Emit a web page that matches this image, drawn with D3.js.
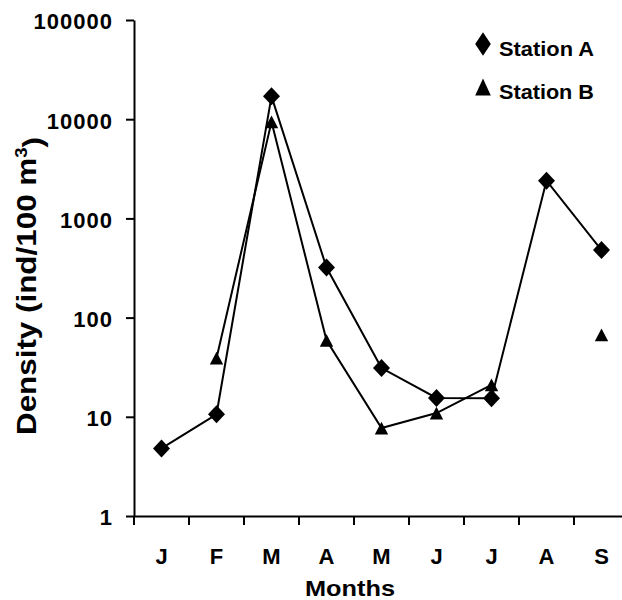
<!DOCTYPE html>
<html>
<head>
<meta charset="utf-8">
<title>Density by month, Station A and B</title>
<script src="https://d3js.org/d3.v7.min.js"></script>
<style>
	body {
		margin: 0;
		background: #fff;
		font-family: "Liberation Sans", Arial, sans-serif;
	}

	.series path.line {
		fill: none;
		stroke: #000;
		stroke-width: 2px;
	}

	.axis path,
	.axis line {
		stroke: #000;
		stroke-width: 2px;
	}
</style>
</head>
<body>
</body>
<script>
	// month labels (Jan..Sep) and values
	var monthLabels = ["J", "F", "M", "A", "M", "J", "J", "A", "S"];
	var stationA = [4.8, 10.6, 17000, 320, 31, 15.5, 15.4, 2400, 480];
	var stationB = [null, 39, 9400, 59, 7.7, 10.9, 21, null, 67];
	var yTicks = [1, 10, 100, 1000, 10000, 100000];
	var seriesNames = ["Station A", "Station B"];

	var width = 622,
			height = 600,
			plotLeft = 134,
			plotRight = 629,
			plotTop = 20,
			plotBottom = 516;

	var svg = d3.select("body").append("svg")
			.attr("width", width)
			.attr("height", height);

	var x = d3.scaleBand()
			.domain(monthLabels.map(function(d, i) { return i; }))
			.range([plotLeft, plotRight])
			.paddingInner(0)
			.paddingOuter(0);

	var y = d3.scaleLog()
			.domain([1, 100000])
			.range([plotBottom, plotTop]);

	// marker shapes
	function diamond(hw, hh) {
		return "M0," + (-hh) + "L" + hw + ",0L0," + hh + "L" + (-hw) + ",0Z";
	}
	function triangle(hw, hh) {
		return "M0," + (-hh) + "L" + hw + "," + hh + "L" + (-hw) + "," + hh + "Z";
	}

	var cx = function(i) { return x(i) + x.bandwidth() / 2; };

	////////////////////////////////////////////////////////////
	// Axes
	var yAxis = svg.append("g")
			.attr("class", "axis y")
			.attr("transform", "translate(" + plotLeft + ",0)")
			.call(d3.axisLeft(y)
				.tickValues(yTicks)
				.tickFormat(d3.format("d"))
				.tickSize(8)
				.tickSizeOuter(0)
				.tickPadding(13));

	yAxis.attr("font-family", null).attr("font-size", null);
	yAxis.selectAll("text")
			.attr("dy", "0.4em")
			.style("font-size", "22px")
			.style("font-weight", "bold")
			.style("letter-spacing", "1px");

	var xAxis = svg.append("g")
			.attr("class", "axis x")
			.attr("transform", "translate(0," + plotBottom + ")")
			.call(d3.axisBottom(x)
				.tickFormat(function(i) { return monthLabels[i]; })
				.tickSize(0)
				.tickSizeOuter(0)
				.tickPadding(32));

	xAxis.attr("font-family", null).attr("font-size", null);
	xAxis.selectAll("text")
			.style("font-size", "22px")
			.style("font-weight", "bold");

	// ticks between months
	xAxis.selectAll("line.sep")
			.data(x.domain().concat([null]))
		.enter().append("line")
			.attr("class", "sep")
			.attr("x1", function(d) { return d === null ? plotRight : x(d); })
			.attr("x2", function(d) { return d === null ? plotRight : x(d); })
			.attr("y1", 0)
			.attr("y2", 9);

	////////////////////////////////////////////////////////////
	// Axis titles
	svg.append("text")
			.attr("x", 350)
			.attr("y", 596)
			.attr("text-anchor", "middle")
			.attr("textLength", 90)
			.attr("lengthAdjust", "spacingAndGlyphs")
			.style("font-size", "22px")
			.style("font-weight", "bold")
			.text("Months");

	var yTitle = svg.append("text")
			.attr("transform", "translate(36,286) rotate(-90)")
			.attr("text-anchor", "middle")
			.attr("textLength", 298)
			.attr("lengthAdjust", "spacingAndGlyphs")
			.style("font-size", "27px")
			.style("font-weight", "bold");
	yTitle.append("tspan").text("Density (ind/100 m");
	yTitle.append("tspan")
			.attr("dy", "-0.55em")
			.style("font-size", "16px")
			.text("3");
	yTitle.append("tspan")
			.attr("dy", "0.55em")
			.text(")");

	////////////////////////////////////////////////////////////
	// Series
	var data = [
		{ name: seriesNames[0], values: stationA, marker: diamond(8.5, 9) },
		{ name: seriesNames[1], values: stationB, marker: triangle(6.7, 6.4) }
	];

	var line = d3.line()
			.defined(function(d) { return d != null; })
			.x(function(d, i) { return cx(i); })
			.y(function(d) { return y(d); });

	var series = svg.selectAll("g.series")
			.data(data)
		.enter().append("g")
			.attr("class", "series");

	series.append("path")
			.attr("class", "line")
			.attr("d", function(d) { return line(d.values); });

	series.each(function(s) {
		d3.select(this).selectAll("path.marker")
				.data(s.values.map(function(v, i) { return { v: v, i: i }; })
					.filter(function(d) { return d.v != null; }))
			.enter().append("path")
				.attr("class", "marker")
				.attr("d", s.marker)
				.attr("fill", "#000")
				.attr("transform", function(d) {
					return "translate(" + cx(d.i) + "," + y(d.v) + ")";
				});
	});

	////////////////////////////////////////////////////////////
	// Legend
	var legendMarkers = [diamond(7.8, 11.7), triangle(7.8, 8.6)];
	var legend = svg.selectAll("g.legend")
			.data(seriesNames)
		.enter().append("g")
			.attr("class", "legend")
			.attr("transform", function(d, i) { return "translate(483," + (44 + i * 43) + ")"; });

	legend.append("path")
			.attr("d", function(d, i) { return legendMarkers[i]; })
			.attr("fill", "#000");

	legend.append("text")
			.attr("x", 16)
			.attr("y", 11.5)
			.attr("textLength", 95)
			.attr("lengthAdjust", "spacingAndGlyphs")
			.style("font-size", "21px")
			.style("font-weight", "bold")
			.text(function(d) { return d; });
</script>
</html>
